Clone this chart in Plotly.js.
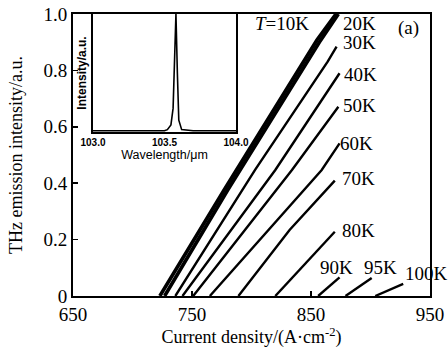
<!DOCTYPE html>
<html>
<head>
<meta charset="utf-8">
<script src="https://cdn.plot.ly/plotly-3.0.1.min.js"></script>
<style>html,body{margin:0;padding:0;background:#fff;}#chart{width:448px;height:354px;}</style>
</head>
<body>
<div id="chart"></div>
<script>
// Main curves: current density (A/cm^2) vs THz emission intensity (a.u.)
const j10K = [723, 777, 855, 871];
const i10K = [0, 0.376, 0.908, 1.0];
const j20K = [727, 780, 857, 873];
const i20K = [0, 0.376, 0.90, 1.0];
const j30K = [736, 803, 864, 871.5];
const i30K = [0, 0.447, 0.831, 0.884];
const j40K = [742, 820, 874];
const i40K = [0, 0.447, 0.79];
const j50K = [751, 834, 873];
const i50K = [0, 0.447, 0.671];
const j60K = [765, 859, 874];
const i60K = [0, 0.447, 0.541];
const j70K = [789, 832, 870];
const i70K = [0, 0.234, 0.409];
const j80K = [820, 870];
const i80K = [0, 0.228];
const j90K = [856, 874];
const i90K = [0, 0.066];
const j95K = [879, 901];
const i95K = [0, 0.064];
const j100K = [904, 927.5];
const i100K = [0, 0.043];

// Inset spectrum
const wavelength = [103.0, 103.3, 103.5, 103.52, 103.545, 103.56, 103.57, 103.58, 103.59, 103.6, 103.62, 103.7, 104.0];
const spectrum   = [0.01, 0.01, 0.01, 0.02, 0.06, 0.2, 0.6, 1.0, 0.5, 0.1, 0.02, 0.01, 0.01];

// Tick labels
const xTicks = [650, 750, 850, 950];
const yTicks = [0, 0.2, 0.4, 0.6, 0.8, 1.0];
const yTickText = ['0', '0.2', '0.4', '0.6', '0.8', '1.0'];
const insetTicks = [103.0, 103.5, 104.0];
const insetTickText = ['103.0', '103.5', '104.0'];

const series = [
  [j10K, i10K, 3.6], [j20K, i20K, 3.6], [j30K, i30K, 2.4], [j40K, i40K, 2.4],
  [j50K, i50K, 2.4], [j60K, i60K, 2.4], [j70K, i70K, 2.4], [j80K, i80K, 2.4],
  [j90K, i90K, 2.4], [j95K, i95K, 2.4], [j100K, i100K, 2.4]
];
const traces = series.map(s => ({
  x: s[0], y: s[1], type: 'scatter', mode: 'lines',
  line: {color: '#000', width: s[2]}, xaxis: 'x', yaxis: 'y', hoverinfo: 'skip'
}));
traces.push({
  x: wavelength, y: spectrum, type: 'scatter', mode: 'lines',
  line: {color: '#000', width: 1.6}, xaxis: 'x2', yaxis: 'y2', hoverinfo: 'skip'
});

const serif = 'Liberation Serif, Times New Roman, serif';
const sans = 'Liberation Sans, Arial, sans-serif';
const lab = (txt, x, y, size) => ({
  text: txt, x: x, y: y, xref: 'x', yref: 'y', showarrow: false,
  xanchor: 'center', yanchor: 'middle', font: {family: serif, size: size || 19, color: '#000'}
});

const layout = {
  width: 448, height: 354,
  margin: {l: 73, r: 18, t: 14, b: 58},
  paper_bgcolor: '#fff', plot_bgcolor: '#fff',
  showlegend: false,
  font: {family: serif, color: '#000'},
  xaxis: {
    domain: [0, 1], range: [650, 950], tickvals: xTicks, ticktext: xTicks.map(String),
    ticks: 'inside', ticklen: 5, tickwidth: 1.5, tickcolor: '#000',
    showline: true, linewidth: 2, linecolor: '#000', mirror: true,
    showgrid: false, zeroline: false,
    tickfont: {family: serif, size: 19, color: '#000'},
    title: {text: 'Current density/(A·cm<sup>-2</sup>)', font: {family: serif, size: 18, color: '#000'}, standoff: 2},
    anchor: 'y'
  },
  yaxis: {
    domain: [0, 1], range: [0, 1.0], tickvals: yTicks, ticktext: yTickText,
    ticks: 'inside', ticklen: 5, tickwidth: 1.5, tickcolor: '#000',
    showline: true, linewidth: 2, linecolor: '#000', mirror: true,
    showgrid: false, zeroline: false,
    tickfont: {family: serif, size: 19, color: '#000'},
    title: {text: 'THz emission intensity/a.u.', font: {family: serif, size: 18, color: '#000'}, standoff: 16},
    anchor: 'x'
  },
  xaxis2: {
    domain: [0.056, 0.4566], range: [103.0, 104.0], anchor: 'y2',
    tickvals: insetTicks, ticktext: insetTickText, ticks: '',
    showline: true, linewidth: 2, linecolor: '#000', mirror: true,
    showgrid: false, zeroline: false,
    tickfont: {family: sans, size: 10, color: '#000', weight: 'bold'},
    title: {text: 'Wavelength/μm', font: {family: sans, size: 12.5, color: '#000'}, standoff: 1}
  },
  yaxis2: {
    domain: [0.5816, 1.0], range: [0, 1.0], anchor: 'x2',
    showticklabels: false, ticks: '',
    showline: true, linewidth: 2, linecolor: '#000', mirror: true,
    showgrid: false, zeroline: false,
    title: {text: 'Intensity/a.u.', font: {family: sans, size: 12, color: '#000', weight: 'bold'}, standoff: 2}
  },
  annotations: [
    lab('<i>T</i>=10K', 825.4, 0.965),
    lab('20K', 891, 0.968),
    lab('30K', 891, 0.90),
    lab('(a)', 932, 0.95),
    lab('40K', 892, 0.784),
    lab('50K', 891, 0.674),
    lab('60K', 888.6, 0.541),
    lab('70K', 889.5, 0.415),
    lab('80K', 890, 0.232),
    lab('90K', 871.6, 0.101),
    lab('95K', 908.6, 0.101),
    lab('100K', 947, 0.08)
  ]
};

Plotly.newPlot('chart', traces, layout, {staticPlot: true, displayModeBar: false});
</script>
</body>
</html>
